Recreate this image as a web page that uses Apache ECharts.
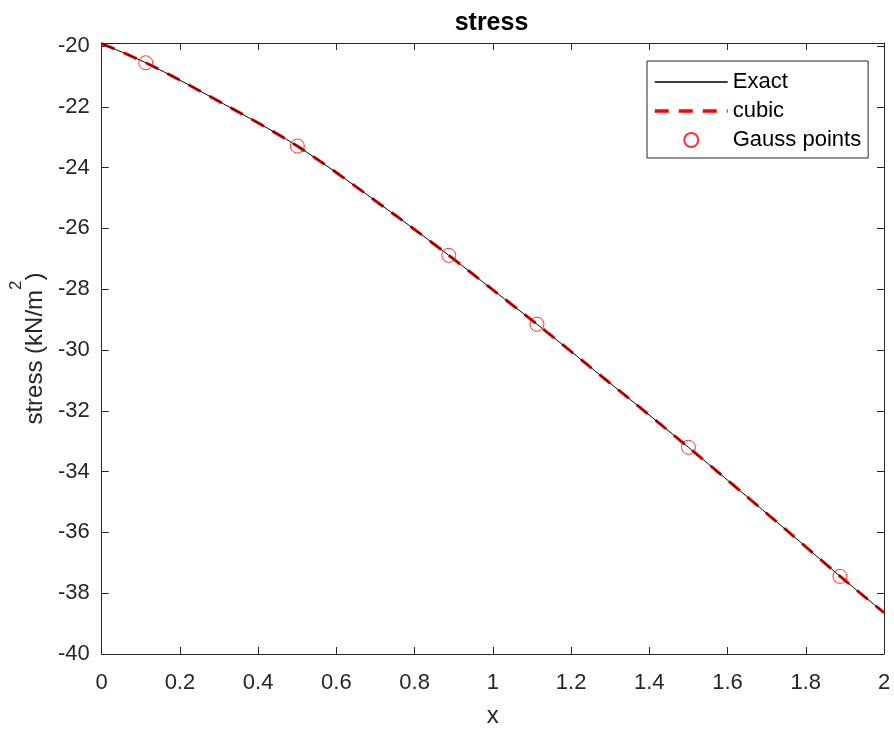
<!DOCTYPE html>
<html><head><meta charset="utf-8">
<script src="https://cdn.jsdelivr.net/npm/echarts@6/dist/echarts.min.js"></script>
<style>html,body{margin:0;padding:0;background:#fff}#c{width:894px;height:733px}</style>
</head><body><div id="c"></div>
<script>
// x positions and readings of the exact stress curve
const exactX = [0, 0.1127, 0.25, 0.5, 0.75, 0.8873, 1.0, 1.1127, 1.25, 1.5, 1.75, 1.8873, 2.0];
const exactY = [-19.92, -20.55, -21.47, -23.29, -25.56, -26.885, -28.02, -29.15, -30.57, -33.20, -35.92, -37.44, -38.64];
// cubic approximation readings
const cubicX = [0, 0.1127, 0.25, 0.5, 0.75, 0.8873, 1.0, 1.1127, 1.25, 1.5, 1.75, 1.8873, 2.0];
const cubicY = [-19.92, -20.55, -21.47, -23.29, -25.56, -26.885, -28.02, -29.15, -30.57, -33.20, -35.92, -37.44, -38.64];
// Gauss points
const gaussX = [0.1127, 0.5, 0.8873, 1.1127, 1.5, 1.8873];
const gaussY = [-20.55, -23.29, -26.885, -29.15, -33.20, -37.445];
const seriesNames = ['Exact', 'cubic', 'Gauss points'];
const titleText = 'stress';
const xName = 'x';
const yName = '{a|stress (kN/m}{s|2}{a|)}';

const pair = (xs, ys) => xs.map((x, i) => [x, ys[i]]);
const AX = '#262626';
const F = '"Liberation Sans", Arial, Helvetica, sans-serif';

const chart = echarts.init(document.getElementById('c'), null, {renderer: 'canvas'});
const baseX = {
  type: 'value', min: 0, max: 2, interval: 0.2,
  axisLine: {show: true, onZero: false, lineStyle: {color: AX, width: 1}},
  axisTick: {show: true, inside: true, length: 7, lineStyle: {color: AX, width: 1}},
  splitLine: {show: false}
};
const baseY = {
  type: 'value', min: -40, max: -19.9, interval: 2,
  axisLine: {show: true, onZero: false, lineStyle: {color: AX, width: 1}},
  axisTick: {show: true, inside: true, length: 7, lineStyle: {color: AX, width: 1}},
  splitLine: {show: false}
};
chart.setOption({
  animation: false,
  backgroundColor: '#fff',
  title: {
    text: titleText, left: 491.5, top: 11, textAlign: 'center', padding: 0,
    textStyle: {fontSize: 25, fontWeight: 'bold', color: '#000', fontFamily: F}
  },
  grid: {left: 99, right: 10, top: 43, bottom: 75, containLabel: false},
  legend: {
    data: [
      {name: seriesNames[0], itemStyle: {opacity: 0}, lineStyle: {width: 1.5, color: '#000'}},
      {name: seriesNames[1], itemStyle: {opacity: 0}, lineStyle: {width: 3.5, color: '#ff0000', type: [14, 10]}},
      {name: seriesNames[2]}
    ],
    orient: 'vertical', left: 647, top: 61,
    padding: [10, 7, 7, 6], itemWidth: 73, itemHeight: 14, itemGap: 7,
    borderColor: AX, borderWidth: 1, borderRadius: 0, backgroundColor: '#fff',
    textStyle: {fontSize: 22, color: '#000', fontFamily: F, lineHeight: 22}
  },
  xAxis: [
    Object.assign({}, baseX, {
      position: 'bottom',
      axisLabel: {fontSize: 22, color: AX, margin: 18, fontFamily: F},
      name: xName, nameLocation: 'middle', nameGap: 50,
      nameTextStyle: {fontSize: 24, color: AX, fontFamily: F}
    }),
    Object.assign({}, baseX, {position: 'top', axisLabel: {show: false}})
  ],
  yAxis: [
    Object.assign({}, baseY, {
      position: 'left',
      axisLabel: {fontSize: 22, color: AX, margin: 12, fontFamily: F, showMaxLabel: false, padding: [4, 0, 0, 0]},
      name: yName, nameLocation: 'middle', nameGap: 37, nameRotate: 90,
      nameTextStyle: {
        fontSize: 24, color: AX, fontFamily: F,
        rich: {
          a: {fontSize: 24, lineHeight: 54, color: AX, fontFamily: F},
          s: {fontSize: 17, lineHeight: 18, verticalAlign: 'top', color: AX, fontFamily: F}
        }
      }
    }),
    Object.assign({}, baseY, {position: 'right', axisLabel: {show: false}})
  ],
  series: [
    {
      name: seriesNames[0], type: 'line', data: pair(exactX, exactY), smooth: 0.3,
      symbol: 'none', z: 4, lineStyle: {color: '#000', width: 1}, itemStyle: {color: '#000'}
    },
    {
      name: seriesNames[1], type: 'line', data: pair(cubicX, cubicY), smooth: 0.3,
      symbol: 'none', z: 3, lineStyle: {color: '#ff0000', width: 3, type: [14, 10]}, itemStyle: {color: '#ff0000'}
    },
    {
      name: seriesNames[2], type: 'scatter', data: pair(gaussX, gaussY), symbol: 'circle', symbolSize: 14, z: 5,
      itemStyle: {color: 'rgba(255,0,0,0)', borderColor: '#ff0000', borderWidth: 1}
    }
  ]
});
</script></body></html>
